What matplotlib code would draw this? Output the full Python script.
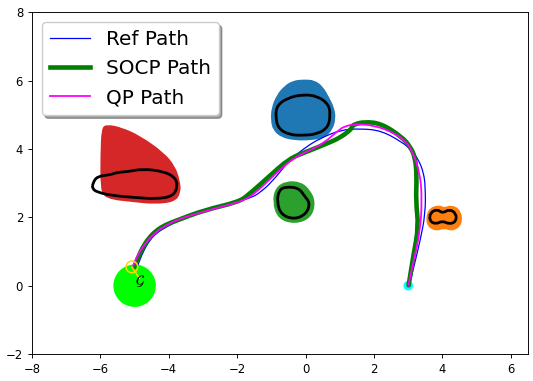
import numpy as np
import matplotlib
matplotlib.use("Agg")
import matplotlib.pyplot as plt
from matplotlib.patches import Circle, PathPatch
from matplotlib.path import Path
from matplotlib.lines import Line2D

# paths (x, y), from goal end to start
ref_x = [-4.91, -4.75, -4.56, -4.35, -4.07, -3.7, -3.27, -2.47, -1.87, -1.6, -1.38, -0.98,
         -0.48, 0.02, 0.42, 1.01, 1.61, 2.21, 2.81, 3.1, 3.31, 3.45, 3.50, 3.50, 3.35, 3.16, 3.03]
ref_y = [0.59, 1.0, 1.33, 1.55, 1.72, 1.92, 2.11, 2.35, 2.50, 2.58, 2.69, 3.04,
         3.67, 4.07, 4.31, 4.56, 4.60, 4.54, 4.21, 3.97, 3.67, 3.3, 2.89, 2.11, 1.33, 0.54, 0.0]

socp_x = [-5.01, -4.9, -4.76, -4.58, -4.36, -4.1, -3.77, -2.97, -1.97, -1.68, -1.08, -0.48,
          0.02, 0.62, 1.0, 1.31, 1.36, 1.41, 1.71, 2.21, 2.81, 3.05, 3.20, 3.25, 3.22, 3.30, 3.16, 3.01]
socp_y = [0.54, 0.82, 1.13, 1.40, 1.62, 1.78, 1.91, 2.21, 2.45, 2.65, 3.19, 3.72,
          3.92, 4.16, 4.33, 4.56, 4.66, 4.72, 4.80, 4.75, 4.36, 4.08, 3.77, 3.19, 2.50, 1.72, 0.94, 0.01]

qp_x = [-5.06, -4.9, -4.66, -4.42, -4.17, -3.8, -3.37, -2.47, -1.77, -1.38, -0.88, -0.38,
        0.02, 0.52, 1.01, 1.2, 1.41, 2.01, 2.61, 2.9, 3.11, 3.35, 3.40, 3.35, 3.16, 3.0]
qp_y = [0.54, 0.92, 1.28, 1.53, 1.72, 1.91, 2.06, 2.31, 2.50, 2.79, 3.28, 3.72,
        3.92, 4.16, 4.60, 4.68, 4.73, 4.70, 4.46, 4.25, 3.97, 3.28, 2.50, 1.62, 0.74, 0.0]

# obstacles: filled region and black outline (control points)
red_fill = [(-5.93, 4.6), (-5.8, 4.68), (-5.4, 4.6), (-4.86, 4.36), (-4.17, 3.87), (-3.85, 3.48),
            (-3.72, 3.09), (-3.68, 2.75), (-3.85, 2.48), (-4.46, 2.43), (-4.96, 2.48),
            (-5.86, 2.58), (-5.96, 2.9), (-5.96, 3.8)]
red_line = [(-6.22, 3.0), (-6.1, 3.2), (-5.7, 3.25), (-5.5, 3.32), (-5.2, 3.34), (-4.76, 3.42),
            (-4.17, 3.35), (-3.82, 3.18), (-3.74, 2.92), (-3.87, 2.62), (-4.36, 2.54),
            (-4.96, 2.58), (-5.66, 2.64), (-6.1, 2.74), (-6.24, 2.85)]

blue_fill = [(-0.98, 4.85), (-0.96, 5.2), (-0.82, 5.55), (-0.6, 5.82), (-0.35, 5.97),
             (-0.05, 6.0), (0.25, 5.98), (0.48, 5.8), (0.65, 5.5), (0.8, 5.2), (0.84, 4.9),
             (0.76, 4.6), (0.55, 4.38), (0.2, 4.3), (-0.3, 4.29), (-0.7, 4.38), (-0.92, 4.58)]
blue_line = [(0.72, 4.99), (0.68, 5.3), (0.36, 5.55), (-0.08, 5.6), (-0.52, 5.5),
             (-0.84, 5.28), (-0.88, 4.95), (-0.8, 4.6), (-0.48, 4.42), (-0.08, 4.40),
             (0.34, 4.44), (0.66, 4.64)]

green_fill = [(-0.55, 3.03), (-0.15, 3.0), (0.1, 2.78), (0.25, 2.45), (0.14, 2.02),
              (-0.3, 1.84), (-0.78, 1.98), (-0.93, 2.45), (-0.85, 2.85)]
green_line = [(-0.58, 2.9), (-0.2, 2.86), (-0.03, 2.62), (0.13, 2.42), (0.02, 2.1),
              (-0.33, 1.94), (-0.72, 2.08), (-0.84, 2.46), (-0.78, 2.8)]

orange_fill = [(3.6, 2.22), (3.9, 2.33), (4.05, 2.24), (4.25, 2.33), (4.5, 2.2),
               (4.55, 1.82), (4.3, 1.63), (4.05, 1.72), (3.8, 1.63), (3.55, 1.8)]
orange_line = [(3.64, 2.14), (3.85, 2.24), (4.0, 2.12), (4.2, 2.24), (4.4, 2.12),
               (4.4, 1.88), (4.2, 1.8), (4.0, 1.9), (3.8, 1.8), (3.62, 1.9)]

goal = (-5.0, 0.0)
goal_r = 0.6
start = (3.0, 0.0)
end_pt = (-5.08, 0.55)
label_pt = (-4.86, 0.12)


def smooth(pts, closed):
    # quadratic bezier through midpoints, vertices used as control points
    p = np.asarray(pts, float)
    if closed:
        mids = (p + np.roll(p, -1, axis=0)) / 2
        verts = [mids[-1]]
        codes = [Path.MOVETO]
        for i in range(len(p)):
            verts += [p[i], mids[i]]
            codes += [Path.CURVE3, Path.CURVE3]
    else:
        verts = [p[0], (p[0] + p[1]) / 2]
        codes = [Path.MOVETO, Path.LINETO]
        for i in range(1, len(p) - 1):
            verts += [p[i], (p[i] + p[i + 1]) / 2]
            codes += [Path.CURVE3, Path.CURVE3]
        verts.append(p[-1])
        codes.append(Path.LINETO)
    return Path(verts, codes)


fig = plt.figure(figsize=(5.33, 3.81), dpi=100)
ax = fig.add_axes([0.060, 0.0709, 0.9306, 0.8963])

ax.add_patch(Circle(goal, goal_r, color="lime", zorder=1))
for fill, line, c in [(red_fill, red_line, "tab:red"), (blue_fill, blue_line, "tab:blue"),
                      (green_fill, green_line, "tab:green"), (orange_fill, orange_line, "tab:orange")]:
    ax.add_patch(PathPatch(smooth(fill, True), facecolor=c, edgecolor=c, lw=2, zorder=1))
    ax.add_patch(PathPatch(smooth(line, True), fill=False, edgecolor="k", lw=2, zorder=2))

paths = [(ref_x, ref_y, "blue", 0.9, "Ref Path", 3),
         (socp_x, socp_y, "green", 3.3, "SOCP Path", 3),
         (qp_x, qp_y, "magenta", 1.3, "QP Path", 4)]
handles = []
for xs, ys, c, w, lab, z in paths:
    ax.add_patch(PathPatch(smooth(list(zip(xs, ys)), False), fill=False, edgecolor=c,
                           lw=w, capstyle="round", zorder=z))
    handles.append(Line2D([], [], color=c, lw=w, label=lab))

ax.add_patch(Circle(start, 0.12, color="cyan", zorder=2))
ax.add_patch(Circle(end_pt, 0.17, fill=False, edgecolor="gold", lw=1.1, zorder=5))
ax.plot([end_pt[0], label_pt[0]], [end_pt[1], label_pt[1] + 0.1], color="gold", lw=1.1, zorder=5)
ax.text(label_pt[0] + 0.02, label_pt[1], r"$\mathcal{G}$", fontsize=10, ha="center", va="center", zorder=6)

ax.set_xlim(-8, 6.5)
ax.set_ylim(-2, 8)
ax.set_xticks(np.arange(-8, 7, 2))
ax.set_yticks(np.arange(-2, 9, 2))
ax.tick_params(labelsize=8.4, width=0.67, length=2.9)
for s in ax.spines.values():
    s.set_linewidth(0.67)

ax.legend(handles=handles, loc="upper left", fontsize=14.4, shadow=True, fancybox=True)

fig.savefig("out.png", dpi=100)
